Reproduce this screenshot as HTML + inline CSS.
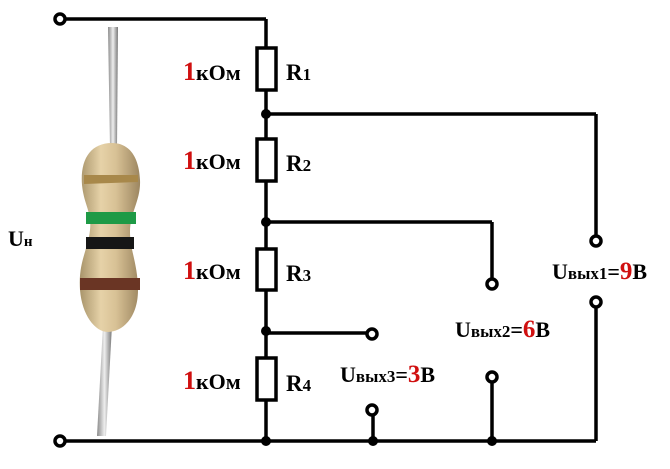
<!DOCTYPE html>
<html><head><meta charset="utf-8"><style>
html,body{margin:0;padding:0;background:#fff;}
svg text{font-family:"Liberation Serif",serif;font-weight:bold;}
</style></head><body>
<svg width="670" height="464" viewBox="0 0 670 464" xmlns="http://www.w3.org/2000/svg">
<rect width="670" height="464" fill="#fff"/>
<defs>
<linearGradient id="body" x1="0" x2="1" y1="0" y2="0">
<stop offset="0" stop-color="#a8946a"/><stop offset="0.35" stop-color="#e6d2a8"/><stop offset="0.6" stop-color="#d8c195"/><stop offset="1" stop-color="#9c8660"/>
</linearGradient>
<linearGradient id="lead" x1="0" x2="1"><stop offset="0" stop-color="#8a8a8a"/><stop offset="0.5" stop-color="#eee"/><stop offset="1" stop-color="#777"/></linearGradient>
</defs>
<path d="M108,27 L118,27 L117,148 L110,148 Z" fill="url(#lead)"/>
<path d="M103,325 L112,325 L106,436 L97,436 Z" fill="url(#lead)"/>
<path d="M112,143 C90,143 80,160 82,185 C84,205 92,212 90,230 C88,250 78,262 80,290 C82,315 95,332 108,332 C122,332 138,318 138,290 C138,265 130,250 130,232 C130,212 141,200 140,180 C139,158 130,143 112,143 Z" fill="url(#body)"/>
<path d="M84,175 L138,175 L138,182 L84,184 Z" fill="#a8884a"/>
<path d="M86,212 L136,212 L136,224 L86,224 Z" fill="#1e9a46"/>
<path d="M86,237 L134,237 L134,249 L86,249 Z" fill="#161616"/>
<path d="M80,278 L140,278 L140,290 L80,290 Z" fill="#6a3524"/>
<g stroke="#000" stroke-width="3.5" fill="none">
<line x1="66" y1="19" x2="266" y2="19"/>
<line x1="66" y1="441" x2="596" y2="441"/>
<line x1="266" y1="19" x2="266" y2="441"/>
<line x1="266" y1="114" x2="596" y2="114"/>
<line x1="596" y1="114" x2="596" y2="235"/>
<line x1="596" y1="308" x2="596" y2="441"/>
<line x1="266" y1="222" x2="492" y2="222"/>
<line x1="492" y1="222" x2="492" y2="278"/>
<line x1="492" y1="383" x2="492" y2="441"/>
<line x1="266" y1="333" x2="366" y2="333"/>
<line x1="373" y1="416" x2="373" y2="441"/>
</g>
<g stroke="#000" stroke-width="3.5" fill="#fff">
<rect x="257" y="48" width="19" height="42"/>
<rect x="257" y="139" width="19" height="42"/>
<rect x="257" y="249" width="19" height="41"/>
<rect x="257" y="358" width="19" height="42"/>
<circle cx="60" cy="19" r="5"/>
<circle cx="60" cy="441" r="5"/>
<circle cx="596" cy="241" r="5"/>
<circle cx="596" cy="302" r="5"/>
<circle cx="492" cy="284" r="5"/>
<circle cx="492" cy="377" r="5"/>
<circle cx="372" cy="334" r="5"/>
<circle cx="372" cy="410" r="5"/>
</g>
<g fill="#000">
<circle cx="266" cy="114" r="5"/><circle cx="266" cy="222" r="5"/>
<circle cx="266" cy="331" r="5"/><circle cx="266" cy="441" r="5"/>
<circle cx="373" cy="441" r="5"/><circle cx="492" cy="441" r="5"/>
</g>
<g font-size="22" fill="#000">
<text x="183" y="80"><tspan fill="#d01010" font-size="26">1</tspan>кОм</text>
<text x="183" y="169"><tspan fill="#d01010" font-size="26">1</tspan>кОм</text>
<text x="183" y="279"><tspan fill="#d01010" font-size="26">1</tspan>кОм</text>
<text x="183" y="389"><tspan fill="#d01010" font-size="26">1</tspan>кОм</text>
<text x="286" y="80" font-size="23">R<tspan font-size="17">1</tspan></text>
<text x="286" y="171" font-size="23">R<tspan font-size="17">2</tspan></text>
<text x="286" y="281" font-size="23">R<tspan font-size="17">3</tspan></text>
<text x="286" y="391" font-size="23">R<tspan font-size="17">4</tspan></text>
<text x="8" y="246">U<tspan font-size="15">н</tspan></text>
<text x="552" y="279">U<tspan font-size="17">вых1</tspan>=<tspan fill="#d01010" font-size="25">9</tspan>В</text>
<text x="455" y="337">U<tspan font-size="17">вых2</tspan>=<tspan fill="#d01010" font-size="25">6</tspan>В</text>
<text x="340" y="382">U<tspan font-size="17">вых3</tspan>=<tspan fill="#d01010" font-size="25">3</tspan>В</text>
</g>
</svg>
</body></html>
